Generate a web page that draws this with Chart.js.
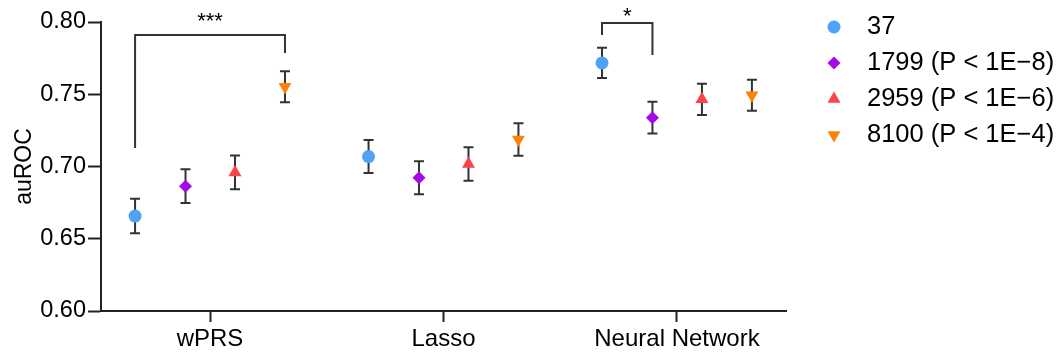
<!DOCTYPE html>
<html>
<head>
<meta charset="utf-8">
<script src="https://cdn.jsdelivr.net/npm/chart.js@4"></script>
<style>
  html, body { margin: 0; padding: 0; background: #fff; }
  #wrap { width: 1059px; height: 354px; }
</style>
</head>
<body>
<div id="wrap"><canvas id="chart" width="1059" height="354"></canvas></div>
<script>
// categories and series
const categories = ['wPRS', 'Lasso', 'Neural Network'];
const seriesLabels = ['37', '1799 (P < 1E\u22128)', '2959 (P < 1E\u22126)', '8100 (P < 1E\u22124)'];

const auroc37   = [0.6657, 0.7069, 0.7717];
const err37     = [0.0119, 0.0114, 0.0105];
const auroc1799 = [0.6864, 0.6922, 0.7338];
const err1799   = [0.0117, 0.0114, 0.0110];
const auroc2959 = [0.6959, 0.7018, 0.7465];
const err2959   = [0.0117, 0.0116, 0.0108];
const auroc8100 = [0.7552, 0.7187, 0.7493];
const err8100   = [0.0108, 0.0112, 0.0107];

const yTicks = [0.60, 0.65, 0.70, 0.75, 0.80];

// significance brackets: category index, from series -> to series, heights in auROC units
const brackets = [
    { cat: 0, from: 0, to: 3, top: 0.7910, leftEnd: 0.7128, rightEnd: 0.7785, label: '***', labelY: 0.8033 },
    { cat: 2, from: 0, to: 1, top: 0.7993, leftEnd: 0.7910, rightEnd: 0.7772, label: '*', labelY: 0.8067 }
];

const colors = ['#4fa3f7', '#a40ae6', '#fc4349', '#ff8208'];
const shapes = ['circle', 'rectRot', 'triangle', 'triangle'];
const rotations = [0, 0, 0, 180];
const radii = [6.5, 6.5, 7.5, 7.5];
const dodge = [-0.321, -0.105, 0.107, 0.321];

const FONT = "'Liberation Sans', Arial, sans-serif";
const means = [auroc37, auroc1799, auroc2959, auroc8100];
const errs = [err37, err1799, err2959, err8100];

const datasets = means.map((vals, s) => ({
    label: seriesLabels[s],
    data: vals.map((v, i) => ({ x: i + 1 + dodge[s], y: v, err: errs[s][i] })),
    backgroundColor: colors[s],
    borderColor: colors[s],
    borderWidth: 0,
    pointStyle: shapes[s],
    pointRotation: rotations[s],
    pointRadius: radii[s],
    showLine: false
}));

// 误差线，画在点的下面
const errorBars = {
    id: 'errorBars',
    beforeDatasetsDraw(chart) {
        const { ctx, scales: { x, y } } = chart;
        ctx.save();
        ctx.strokeStyle = '#333';
        ctx.lineWidth = 2;
        chart.data.datasets.forEach(ds => {
            ds.data.forEach(p => {
                const px = x.getPixelForValue(p.x);
                const hi = y.getPixelForValue(p.y + p.err);
                const lo = y.getPixelForValue(p.y - p.err);
                ctx.beginPath();
                ctx.moveTo(px, hi); ctx.lineTo(px, lo);
                ctx.moveTo(px - 5, hi); ctx.lineTo(px + 5, hi);
                ctx.moveTo(px - 5, lo); ctx.lineTo(px + 5, lo);
                ctx.stroke();
            });
        });
        ctx.restore();
    }
};

// 显著性标记
const sigBrackets = {
    id: 'sigBrackets',
    afterDatasetsDraw(chart) {
        const { ctx, scales: { x, y } } = chart;
        ctx.save();
        ctx.strokeStyle = '#333';
        ctx.lineWidth = 2;
        brackets.forEach(b => {
            const x1 = x.getPixelForValue(b.cat + 1 + dodge[b.from]);
            const x2 = x.getPixelForValue(b.cat + 1 + dodge[b.to]);
            const yt = y.getPixelForValue(b.top);
            ctx.beginPath();
            ctx.moveTo(x1, y.getPixelForValue(b.leftEnd));
            ctx.lineTo(x1, yt);
            ctx.lineTo(x2, yt);
            ctx.lineTo(x2, y.getPixelForValue(b.rightEnd));
            ctx.stroke();
            ctx.fillStyle = '#000';
            ctx.font = '22px ' + FONT;
            ctx.textAlign = 'center';
            ctx.textBaseline = 'middle';
            ctx.fillText(b.label, (x1 + x2) / 2, y.getPixelForValue(b.labelY) + 0.22 * 22);
        });
        ctx.restore();
    }
};

// 右侧图例
const sideLegend = {
    id: 'sideLegend',
    afterDraw(chart) {
        const { ctx } = chart;
        ctx.save();
        chart.data.datasets.forEach((ds, i) => {
            const cy = 27 + i * 36;
            ctx.fillStyle = ds.backgroundColor;
            ctx.strokeStyle = ds.borderColor;
            Chart.helpers.drawPoint(ctx, {
                pointStyle: ds.pointStyle, rotation: ds.pointRotation,
                radius: ds.pointRadius, borderWidth: 0
            }, 834, cy);
            ctx.fillStyle = '#000';
            ctx.font = '25.5px ' + FONT;
            ctx.textAlign = 'left';
            ctx.textBaseline = 'middle';
            ctx.fillText(ds.label, 867, cy);
        });
        ctx.restore();
    }
};

new Chart(document.getElementById('chart'), {
    type: 'scatter',
    data: { datasets },
    plugins: [errorBars, sigBrackets, sideLegend],
    options: {
        responsive: false,
        animation: false,
        layout: { padding: { left: 0, right: 273, top: 22, bottom: 0 } },
        plugins: { legend: { display: false }, tooltip: { enabled: false } },
        scales: {
            x: {
                type: 'linear',
                min: 0.533, max: 3.467,
                afterBuildTicks: axis => { axis.ticks = categories.map((c, i) => ({ value: i + 1 })); },
                afterFit: axis => { axis.height = 43; },
                ticks: {
                    autoSkip: false, maxRotation: 0, padding: 3,
                    color: '#000', font: { size: 24, family: FONT },
                    callback: v => categories[v - 1]
                },
                grid: { drawOnChartArea: false, tickLength: 11, tickWidth: 2, tickColor: '#222' },
                border: { color: '#222', width: 2 }
            },
            y: {
                min: 0.6, max: 0.8,
                afterBuildTicks: axis => { axis.ticks = yTicks.map(v => ({ value: v })); },
                afterFit: axis => { axis.width = 101; },
                ticks: {
                    padding: 2, color: '#000', font: { size: 23.5, family: FONT },
                    callback: v => v.toFixed(2)
                },
                title: {
                    display: true, text: 'auROC', color: '#000',
                    font: { size: 23, family: FONT }, padding: { top: 11, bottom: 0 }
                },
                grid: { drawOnChartArea: false, tickLength: 13, tickWidth: 2, tickColor: '#222' },
                border: { color: '#222', width: 2 }
            }
        }
    }
});
</script>
</body>
</html>
